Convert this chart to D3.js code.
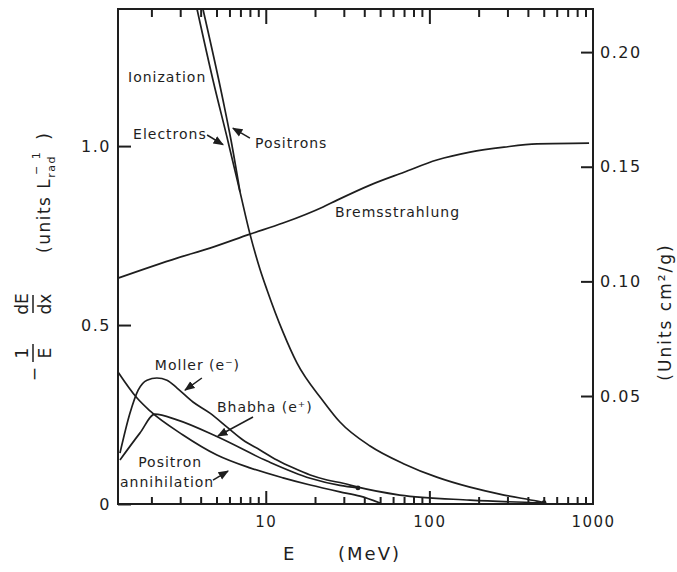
<!DOCTYPE html>
<html>
<head>
<meta charset="utf-8">
<script src="https://cdn.jsdelivr.net/npm/d3@7"></script>
<style>
  body { margin: 0; background: #fff; }
  svg text { font-family: "DejaVu Sans", sans-serif; fill: #1e1e1e; }
</style>
</head>
<body>
<svg width="677" height="572"></svg>
<script>
// Values: E in MeV, -(1/E) dE/dx in units of 1/L_rad

// Ionization, electrons
const ionElecE = [3.8, 4.76, 5.88, 6.96, 8.01, 9.22, 10.18, 12.75, 15.5, 22.4, 28.4, 43.4, 70, 111, 177, 286, 455, 502]
const ionElecV = [1.383, 1.184, 1.013, 0.872, 0.754, 0.656, 0.598, 0.480, 0.394, 0.288, 0.229, 0.162, 0.112, 0.075, 0.047, 0.025, 0.008, 0.004]
// Ionization, positrons (upper part, joins the electron curve near 7 MeV)
const ionPosE = [4.13, 5.48, 6.13, 6.96]
const ionPosV = [1.383, 1.128, 1.017, 0.872]
// Bremsstrahlung
const bremsE = [1.25, 2.87, 4.56, 8.01, 12.75, 22.4, 27.3, 43.4, 70, 111, 177, 286, 455, 946]
const bremsV = [0.631, 0.687, 0.715, 0.754, 0.785, 0.830, 0.849, 0.891, 0.927, 0.961, 0.983, 0.997, 1.006, 1.008]
// Moller (e-)
const mollerE = [1.285, 1.48, 1.66, 1.88, 2.16, 2.49, 2.87, 3.59, 4.56, 5.80, 7.26, 9.22, 11.7, 14.7, 18.7, 23.7, 29.7, 36.6, 66, 177, 502]
const mollerV = [0.142, 0.254, 0.318, 0.346, 0.352, 0.346, 0.324, 0.285, 0.254, 0.215, 0.179, 0.151, 0.123, 0.101, 0.081, 0.067, 0.058, 0.047, 0.025, 0.011, 0.003]
// Bhabha (e+)
const bhabhaE = [1.285, 1.70, 2.10, 2.87, 5.10, 10.2, 18.7, 28.4, 36.6]
const bhabhaV = [0.123, 0.198, 0.251, 0.235, 0.187, 0.120, 0.072, 0.052, 0.045]
// Positron annihilation
const annihE = [1.25, 1.634, 1.961, 3.12, 5.03, 8.0, 12.75, 18.7, 28.4, 37.7, 49.9]
const annihV = [0.369, 0.296, 0.260, 0.193, 0.137, 0.101, 0.073, 0.053, 0.034, 0.022, 0.003]

// axis ticks
const xMajor = [10, 100, 1000]
const xMinor = [2, 3, 4, 5, 6, 7, 8, 9, 20, 30, 40, 50, 60, 70, 80, 90, 200, 300, 400, 500, 600, 700, 800, 900]
const yLeftTicks = [0, 0.5, 1.0]
const yRightTicks = [0.05, 0.10, 0.15, 0.20]

// curve labels [text, E, value] and arrows [E0, v0, E1, v1]
const labels = [
  ["Ionization", 1.44, 1.179],
  ["Electrons", 1.545, 1.02],
  ["Positrons", 8.6, 0.994],
  ["Bremsstrahlung", 26.5, 0.802],
  ["Moller (e\u207B)", 2.10, 0.374],
  ["Bhabha (e\u207A)", 5.03, 0.257],
  ["Positron", 1.66, 0.103],
  ["annihilation", 1.285, 0.047]
]
const arrows = [
  [4.38, 1.031, 5.48, 1.004],
  [8.0, 1.022, 6.3, 1.05],
  [4.07, 0.352, 3.21, 0.318],
  [8.36, 0.243, 5.1, 0.19],
  [4.76, 0.067, 5.88, 0.092]
]

const svg = d3.select("svg")
const ink = "#1e1e1e"

// scales
const x = d3.scaleLog().domain([1.25, 1000]).range([118, 593])
const y = d3.scaleLinear().domain([0, 1.383]).range([504, 9])
const yRight = d3.scaleLinear().domain([0.0029, 0.2188]).range([504, 9]) // cm^2/g

svg.append("defs").append("marker")
    .attr("id", "head")
    .attr("viewBox", "0 0 10 10")
    .attr("refX", 9).attr("refY", 5)
    .attr("markerWidth", 7).attr("markerHeight", 7)
    .attr("orient", "auto")
  .append("path")
    .attr("d", "M0,1 L10,5 L0,9 Z")
    .attr("fill", ink)

// frame
svg.append("rect")
    .attr("x", 118).attr("y", 9)
    .attr("width", 593 - 118).attr("height", 504 - 9)
    .attr("fill", "none").attr("stroke", ink).attr("stroke-width", 2)

// axes with inward ticks; labels outside the frame
function styleAxis(g, size) {
  g.select(".domain").remove()
  g.selectAll(".tick line").attr("stroke", ink).attr("stroke-width", 2)
  g.selectAll("text").style("font-size", size + "px").style("letter-spacing", "1.5px").attr("fill", ink)
}

// bottom: minor ticks, then major ticks with labels
svg.append("g").attr("transform", "translate(0,504)")
  .call(d3.axisBottom(x).tickValues(xMinor).tickSizeInner(-7).tickSizeOuter(0).tickFormat(() => ""))
  .call(g => styleAxis(g, 15))
svg.append("g").attr("transform", "translate(0,504)")
  .call(d3.axisBottom(x).tickValues(xMajor.slice(0, 2)).tickSizeInner(-13).tickSizeOuter(0).tickFormat(() => ""))
  .call(g => styleAxis(g, 15))
svg.append("g").attr("transform", "translate(0,504)")
  .call(d3.axisBottom(x).tickValues(xMajor).tickSize(0).tickPadding(12).tickFormat(d3.format("d")))
  .call(g => styleAxis(g, 15))
// top
svg.append("g").attr("transform", "translate(0,9)")
  .call(d3.axisTop(x).tickValues(xMinor).tickSizeInner(-8).tickSizeOuter(0).tickFormat(() => ""))
  .call(g => styleAxis(g, 15))
svg.append("g").attr("transform", "translate(0,9)")
  .call(d3.axisTop(x).tickValues(xMajor.slice(0, 2)).tickSizeInner(-15).tickSizeOuter(0).tickFormat(() => ""))
  .call(g => styleAxis(g, 15))
// left and right
svg.append("g").attr("transform", "translate(118,0)")
  .call(d3.axisLeft(y).tickValues(yLeftTicks).tickSizeInner(-13).tickSizeOuter(0).tickPadding(7)
    .tickFormat(d => d === 0 ? "0" : d.toFixed(1)))
  .call(g => styleAxis(g, 16))
svg.append("g").attr("transform", "translate(593,0)")
  .call(d3.axisRight(yRight).tickValues(yRightTicks).tickSizeInner(-12).tickSizeOuter(0).tickPadding(7)
    .tickFormat(d3.format(".2f")))
  .call(g => styleAxis(g, 16))

// curves
const line = d3.line()
    .x(d => x(d[0]))
    .y(d => y(d[1]))
    .curve(d3.curveMonotoneX)

const series = [
  [ionElecE, ionElecV],
  [ionPosE, ionPosV],
  [bremsE, bremsV],
  [mollerE, mollerV],
  [bhabhaE, bhabhaV],
  [annihE, annihV]
]

svg.append("g")
  .selectAll("path")
  .data(series.map(s => d3.zip(s[0], s[1])))
  .join("path")
    .attr("d", line)
    .attr("fill", "none")
    .attr("stroke", ink)
    .attr("stroke-width", 1.7)

// little dots where curves merge / finish
const dots = [
  [bhabhaE[bhabhaE.length - 1], bhabhaV[bhabhaV.length - 1]],
  [ionElecE[ionElecE.length - 1], ionElecV[ionElecV.length - 1]]
]
svg.append("g")
  .selectAll("circle")
  .data(dots)
  .join("circle")
    .attr("cx", d => x(d[0]))
    .attr("cy", d => y(d[1]))
    .attr("r", 2.4)
    .attr("fill", ink)

// labels and arrows
svg.append("g")
  .selectAll("text")
  .data(labels)
  .join("text")
    .attr("x", d => x(d[1]))
    .attr("y", d => y(d[2]))
    .style("font-size", "14px")
    .style("letter-spacing", "1px")
    .text(d => d[0])

svg.append("g")
  .selectAll("line")
  .data(arrows)
  .join("line")
    .attr("x1", d => x(d[0])).attr("y1", d => y(d[1]))
    .attr("x2", d => x(d[2])).attr("y2", d => y(d[3]))
    .attr("stroke", ink)
    .attr("stroke-width", 1.5)
    .attr("marker-end", "url(#head)")

// x axis title
svg.append("text")
    .attr("x", 283).attr("y", 560)
    .style("font-size", "18px")
    .style("letter-spacing", "2px")
    .text("E")
svg.append("text")
    .attr("x", 338).attr("y", 560)
    .style("font-size", "18px")
    .style("letter-spacing", "2px")
    .text("(MeV)")

// left y title:  - (1/E) (dE/dx)  (units L_rad^-1), rotated
const yl = svg.append("g").attr("transform", "translate(33,300) rotate(-90)")
yl.append("text").attr("x", -74).attr("y", 7).attr("text-anchor", "middle")
    .style("font-size", "17px").text("\u2212")
function frac(g, cx, top, bottom) {
  g.append("text").attr("x", cx).attr("y", -5).attr("text-anchor", "middle")
      .style("font-size", "17px").text(top)
  g.append("line").attr("x1", cx - 9).attr("x2", cx + 9).attr("y1", 0).attr("y2", 0)
      .attr("stroke", ink).attr("stroke-width", 1.5)
  g.append("text").attr("x", cx).attr("y", 18).attr("text-anchor", "middle")
      .style("font-size", "17px").text(bottom)
}
frac(yl, -53, "1", "E")
frac(yl, -4, "dE", "dx")
const ut = yl.append("text").attr("x", 47).attr("y", 17)
    .style("font-size", "17px").style("letter-spacing", "1.5px")
ut.append("tspan").text("(units  L")
ut.append("tspan").attr("dy", 5).style("font-size", "11px").text("rad")
ut.append("tspan").attr("dx", -20).attr("dy", -15).style("font-size", "11px").text("\u2212 1")
ut.append("tspan").attr("dx", 4).attr("dy", 10).text(" )")

// right y title
svg.append("text")
    .attr("transform", "translate(671,312) rotate(-90)")
    .attr("text-anchor", "middle")
    .style("font-size", "17px")
    .style("letter-spacing", "2px")
    .text("(Units  cm\u00B2/g)")
</script>
</body>
</html>
